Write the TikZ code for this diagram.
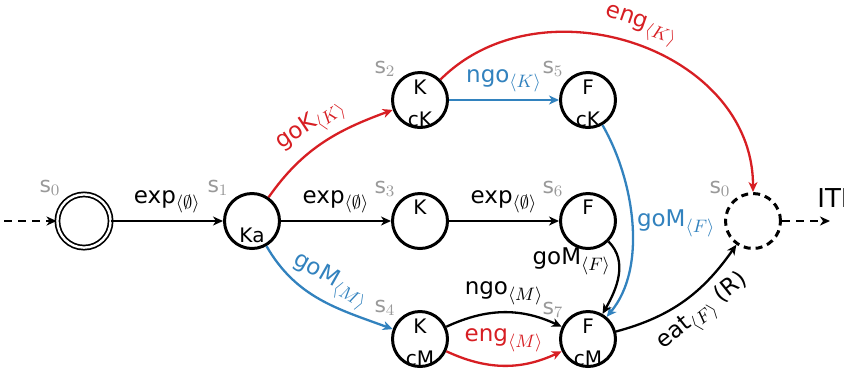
\documentclass[tikz,border=0pt]{standalone}
\usepackage{amsmath}
\usepackage{amssymb}
\usepackage{fontspec}
\setmainfont{DejaVu Sans}
\usetikzlibrary{positioning,arrows.meta}

\DeclareMathSizes{11.5}{11.5}{9}{6.5}
\DeclareMathSizes{11}{11}{8.5}{6}

\definecolor{cred}{RGB}{215,30,35}
\definecolor{cblue}{RGB}{50,130,190}

\begin{document}
\begin{tikzpicture}[x=0.5pt, y=0.5pt, >={Stealth[length=5pt, width=4.5pt, inset=1.5pt]},
  state/.style={circle, draw, line width=1.5pt, minimum size=27.5pt, inner sep=0pt},
  intext/.style={inner sep=0pt, font=\fontsize{10}{12}\selectfont},
  sname/.style={text=black!40, inner sep=0pt, font=\fontsize{11}{13}\selectfont},
  lbl/.style={font=\fontsize{11.5}{13}\selectfont},
  trans/.style={->, line width=1.15pt}]
\def\xa{84}
\def\xb{252}
\def\xc{420}
\def\xd{588}
\def\xe{753}

\def\ya{-100}
\def\yb{-221}
\def\yc{-339}

\useasboundingbox (0,0) rectangle (844,-371);

% states
\node[state, double, double distance=1.2pt, line width=0.85pt, minimum size=26.6pt] (q0) at (\xa, \yb) {};
\node[state] (q1) at (\xb, \yb) {};
\node[state] (q2) at (\xc, \ya) {};
\node[state] (q3) at (\xc, \yb) {};
\node[state] (q4) at (\xc, \yc) {};
\node[state] (q5) at (\xd, \ya) {};
\node[state] (q6) at (\xd, \yb) {};
\node[state] (q7) at (\xd, \yc) {};
\node[state, dash pattern=on 3.5pt off 2.5pt] (qf) at (\xe, \yb) {};

% texts inside
\node[intext] (q1b) at (\xb, \yb-14) {Ka};
\node[intext] (q2t) at (\xc, \ya+13) {K};
\node[intext] (q2b) at (\xc, \ya-19) {cK};
\node[intext] (q3t) at (\xc, \yb+14) {K};
\node[intext] (q4t) at (\xc, \yc+13) {K};
\node[intext] (q4b) at (\xc, \yc-19) {cM};
\node[intext] (q5t) at (\xd, \ya+13) {F};
\node[intext] (q5b) at (\xd, \ya-19) {cK};
\node[intext] (q6t) at (\xd, \yb+14) {F};
\node[intext] (q7t) at (\xd, \yc+13) {F};
\node[intext] (q7b) at (\xd, \yc-19) {cM};

% state names
\node[sname] (n0) at (\xa-34, \yb+33) {s$_0$};
\node[sname] (n1) at (\xb-34, \yb+33) {s$_1$};
\node[sname] (n2) at (\xc-35, \ya+31) {s$_2$};
\node[sname] (n3) at (\xc-35, \yb+32) {s$_3$};
\node[sname] (n4) at (\xc-35, \yc+31) {s$_4$};
\node[sname] (n5) at (\xd-35, \ya+31) {s$_5$};
\node[sname] (n6) at (\xd-35, \yb+32) {s$_6$};
\node[sname] (n7) at (\xd-35, \yc+29) {s$_7$};
\node[sname] (nf) at (\xe-33, \yb+32) {s$_0$};

\coordinate (in) at (4, \yb);
\coordinate (out) at (830, \yb);

% transitions
\draw[trans, dash pattern=on 4pt off 3pt] (in) -- (q0);
\draw[trans] (q0) -- node[lbl, above] (l01) {exp$_{\langle\emptyset\rangle}$} (q1);
\draw[trans, cred] (q1) to [out=55, in=200] node[lbl, sloped, above] (l12) {goK$_{\langle K\rangle}$} (q2);
\draw[trans] (q1) -- node[lbl, above] (l13) {exp$_{\langle\emptyset\rangle}$} (q3);
\draw[trans, cblue] (q1) to [out=-60, in=160] node[lbl, sloped, above] (l14) {goM$_{\langle M\rangle}$} (q4);
\draw[trans, cblue] (q2) -- node[lbl, above] (l25) {ngo$_{\langle K\rangle}$} (q5);
\draw[trans, cred] (q2) to [out=45, in=90, looseness=1.1] node[lbl, sloped, above] (l2f) {eng$_{\langle K\rangle}$} (qf);
\draw[trans] (q3) -- node[lbl, above] (l36) {exp$_{\langle\emptyset\rangle}$} (q6);
\draw[trans, cblue] (q5) to [out=-60, in=50, looseness=0.85] node[lbl, right, inner sep=2pt] (l57) {goM$_{\langle F\rangle}$} (q7);
\draw[trans] (q6) to [out=-45, in=60] node[lbl, left, pos=0.3] (l67) {goM$_{\langle F\rangle}$} (q7);
\draw[trans] (q4) to [bend left=25] node[lbl, above] (l47a) {ngo$_{\langle M\rangle}$} (q7);
\draw[trans, cred] (q4) to [bend right=25] node[lbl, above, yshift=3pt] (l47b) {eng$_{\langle M\rangle}$} (q7);
\draw[trans] (q7) to [out=15, in=235] node[lbl, sloped, below, pos=0.55] (l7f) {eat$_{\langle F\rangle}$ (R)} (qf);
\draw[trans, dash pattern=on 4pt off 3pt] (qf) -- (out);
\node[anchor=west, inner sep=0pt, font=\fontsize{13}{15}\selectfont] (iti) at (817, \yb+23) {ITI};

\end{tikzpicture}
\end{document}
